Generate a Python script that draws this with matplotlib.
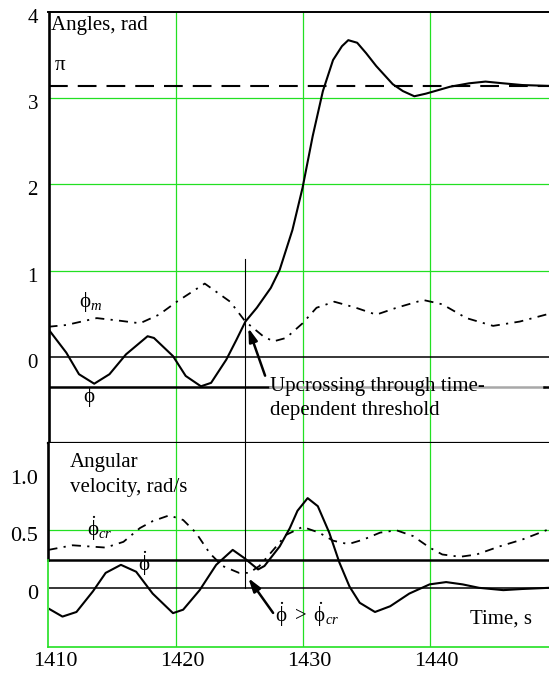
import numpy as np
import matplotlib
matplotlib.use('Agg')
import matplotlib.pyplot as plt
import matplotlib.transforms as mtrans

plt.rcParams['font.family'] = ['Liberation Serif', 'DejaVu Serif']
plt.rcParams['mathtext.fontset'] = 'custom'
plt.rcParams['mathtext.rm'] = 'Liberation Serif'
plt.rcParams['mathtext.it'] = 'Liberation Serif:italic'
plt.rcParams['mathtext.fallback'] = 'stix'

# roll angle phi and time-dependent threshold phi_m (rad)
t_phi = [1410, 1411.4, 1412.4, 1413.6, 1414.8, 1416.1, 1417.8, 1418.3, 1419.8, 1420.8,
         1422.0, 1422.8, 1424.0, 1424.8, 1425.5, 1426.4, 1427.5, 1428.2, 1429.2, 1430.0,
         1430.8, 1431.6, 1432.4, 1433.1, 1433.6, 1434.3, 1435.0, 1435.8, 1437.1, 1437.9,
         1438.8, 1439.7, 1441.6, 1443.1, 1444.4, 1445.8, 1447.3, 1449.4]
phi = [0.32, 0.05, -0.2, -0.31, -0.2, 0.03, 0.24, 0.22, 0.01, -0.22,
       -0.34, -0.30, -0.03, 0.20, 0.41, 0.57, 0.80, 1.01, 1.47, 1.96,
       2.56, 3.08, 3.44, 3.60, 3.67, 3.64, 3.52, 3.37, 3.16, 3.08,
       3.02, 3.05, 3.13, 3.17, 3.19, 3.17, 3.15, 3.14]

t_m = [1410, 1411.4, 1413.8, 1415.6, 1417.2, 1418.7, 1420.1, 1422.3, 1424.3, 1425.5,
       1426.9, 1427.7, 1428.7, 1430.0, 1431.1, 1432.5, 1434.2, 1435.8, 1437.4, 1439.5,
       1441.0, 1442.9, 1445.0, 1447.1, 1449.4]
phi_m = [0.35, 0.37, 0.45, 0.42, 0.39, 0.49, 0.64, 0.85, 0.64, 0.41,
         0.24, 0.18, 0.22, 0.39, 0.57, 0.64, 0.57, 0.49, 0.57, 0.66,
         0.61, 0.45, 0.36, 0.41, 0.50]

# angular velocity and critical angular velocity (rad/s)
t_v = [1410, 1411.1, 1412.2, 1413.5, 1414.5, 1415.7, 1416.9, 1418.2, 1419.8, 1420.6,
       1421.9, 1423.2, 1424.5, 1425.4, 1426.5, 1427.0, 1428.2, 1429.0, 1429.6, 1430.4,
       1431.2, 1432.1, 1432.9, 1433.7, 1434.5, 1435.7, 1436.9, 1438.4, 1440.0, 1441.3,
       1442.6, 1443.9, 1445.8, 1447.3, 1449.4]
phi_dot = [-0.18, -0.25, -0.21, -0.03, 0.13, 0.20, 0.14, -0.05, -0.22, -0.19,
           -0.02, 0.20, 0.33, 0.26, 0.16, 0.19, 0.36, 0.52, 0.67, 0.78,
           0.71, 0.48, 0.22, 0.01, -0.13, -0.21, -0.16, -0.05, 0.03, 0.05,
           0.03, 0.0, -0.02, -0.01, 0.0]

t_cr = [1410, 1411.9, 1414.5, 1415.9, 1417.2, 1418.2, 1419.5, 1420.6, 1421.6, 1422.7,
        1423.7, 1425.0, 1425.8, 1426.6, 1427.7, 1428.7, 1430.0, 1431.3, 1432.4, 1433.6,
        1434.8, 1436.1, 1437.4, 1438.7, 1440.0, 1441.0, 1442.4, 1443.7, 1445.5, 1447.3,
        1449.4]
phi_cr = [0.33, 0.37, 0.35, 0.40, 0.52, 0.58, 0.63, 0.59, 0.48, 0.30,
          0.19, 0.13, 0.13, 0.19, 0.33, 0.46, 0.53, 0.48, 0.41, 0.38,
          0.42, 0.48, 0.50, 0.45, 0.35, 0.29, 0.27, 0.29, 0.36, 0.42,
          0.51]

x_ticks = [1410, 1420, 1430, 1440]
angle_ticks = [0, 1, 2, 3, 4]
vel_ticks = [0, 0.5, 1.0]
vel_tick_labels = ['0', '0.5', '1.0']

t_up = 1425.5          # moment of upcrossing
angle_thr = -0.35      # constant angle threshold line
vel_thr = 0.238        # constant velocity threshold line
xmax = 1449.4

green = '#22e022'
dashdot = (0, (5, 3.5, 1.2, 3.5))

fig = plt.figure(figsize=(5.49, 6.75), dpi=100)
left = 48.5 / 549
ax1 = fig.add_axes([left, 0.3433, 1 - left, 0.6394])
ax2 = fig.add_axes([left, 0.0419, 1 - left, 0.3014])

# ---- top panel: angles
ax1.set_xlim(1410, xmax)
ax1.set_ylim(-1, 4)
for x in x_ticks[1:]:
    ax1.axvline(x, color=green, lw=0.9, zorder=1)
for y in angle_ticks[1:-1]:
    ax1.axhline(y, color=green, lw=0.9, zorder=1)
ax1.axhline(0, color='k', lw=1.1, zorder=2)
ax1.axhline(np.pi, color='k', lw=1.5, dashes=(9, 4.8), zorder=2)
ax1.plot([1410, 1427.45], [angle_thr, angle_thr], color='k', lw=1.8, zorder=2)
ax1.plot([1427.45, 1449.0], [angle_thr, angle_thr], color='#a8a8a8', lw=1.8, zorder=2)
ax1.plot([1449.0, xmax], [angle_thr, angle_thr], color='k', lw=1.8, zorder=2)
ax1.plot([t_up, t_up], [1.14, -1], color='k', lw=0.8, zorder=2)
ax1.plot(t_phi, phi, color='k', lw=1.5, zorder=3)
ax1.plot(t_m, phi_m, color='k', lw=1.3, linestyle=dashdot, zorder=3)

ax1.set_xticks([])
ax1.set_yticks(angle_ticks)
ax1.tick_params(length=0, pad=7.6, labelsize=15)
ax1.spines['right'].set_visible(False)
ax1.spines['left'].set_linewidth(1.9)
ax1.spines['top'].set_linewidth(1.4)
ax1.spines['bottom'].set_linewidth(1.6)

ax1.text(1410.2, 3.955, 'Angles, rad', va='top', fontsize=15)
ax1.text(1410.5, 3.33, 'π', fontsize=15)
ax1.text(1412.4, 0.64, r'$\mathrm{\phi}_m$', va='center', fontsize=15)
ax1.text(1412.7, -0.466, r'$\mathrm{\phi}$', va='center', fontsize=15)
ax1.text(1427.45, -0.228, 'Upcrossing through time-\ndependent threshold',
         va='top', fontsize=15, linespacing=1.35, zorder=4)
ax1.annotate('', xy=(1425.73, 0.336), xytext=(1427.05, -0.217),
             arrowprops=dict(arrowstyle='-|>,head_length=0.8,head_width=0.25',
                             color='k', lw=1.8, shrinkA=0, shrinkB=0))

# ---- bottom panel: angular velocity
ax2.set_xlim(1410, xmax)
ax2.set_ylim(-0.512, 1.257)
for x in x_ticks[1:]:
    ax2.axvline(x, color=green, lw=0.9, zorder=1)
ax2.axhline(0.5, color=green, lw=0.9, zorder=1)
ax2.axhline(vel_thr, color='k', lw=1.8, zorder=2)
ax2.axhline(0, color='k', lw=1.1, zorder=2)
ax2.plot([t_up, t_up], [0, 1.257], color='k', lw=0.8, zorder=2)
ax2.plot([1410, 1410], [vel_thr, 1.257], color='k', lw=1.9, clip_on=False, zorder=2)
ax2.plot([1410, 1410], [-0.512, vel_thr], color=green, lw=1.2, clip_on=False, zorder=2)
ax2.plot(t_v, phi_dot, color='k', lw=1.5, zorder=3)
ax2.plot(t_cr, phi_cr, color='k', lw=1.3, linestyle=dashdot, zorder=3)

ax2.set_xticks(x_ticks)
ax2.set_yticks(vel_ticks)
ax2.set_yticklabels(vel_tick_labels)
ax2.tick_params(length=0, labelsize=16)
ax2.tick_params(axis='y', pad=7.6)
ax2.tick_params(axis='x', pad=4)
for s in ['top', 'right', 'left']:
    ax2.spines[s].set_visible(False)
ax2.spines['bottom'].set_color(green)
ax2.spines['bottom'].set_linewidth(1.2)

ax2.text(1411.7, 1.169, 'Angular\nvelocity, rad/s', va='top', fontsize=15, linespacing=1.4)
ax2.text(1413.0, 0.515, r'$\dot{\mathrm{\phi}}_{cr}$', va='center', fontsize=15)
ax2.text(1417.05, 0.214, r'$\dot{\mathrm{\phi}}$', va='center', fontsize=15)
ax2.text(1427.8, -0.297, r'$\dot{\mathrm{\phi}}\ >\ \dot{\mathrm{\phi}}_{cr}$', fontsize=15)
ax2.text(1443.2, -0.31, 'Time, s', fontsize=15)
ax2.annotate('', xy=(1425.73, 0.085), xytext=(1427.68, -0.218),
             arrowprops=dict(arrowstyle='-|>,head_length=0.8,head_width=0.25',
                             color='k', lw=1.8, shrinkA=0, shrinkB=0))

# nudge tick labels the way they sit in the original
down = mtrans.ScaledTranslation(0, -0.04, fig.dpi_scale_trans)
for lab in ax1.get_yticklabels() + ax2.get_yticklabels():
    lab.set_transform(lab.get_transform() + down)
right = mtrans.ScaledTranslation(0.07, 0, fig.dpi_scale_trans)
for lab in ax2.get_xticklabels():
    lab.set_transform(lab.get_transform() + right)

fig.savefig('out.png', dpi=100)
